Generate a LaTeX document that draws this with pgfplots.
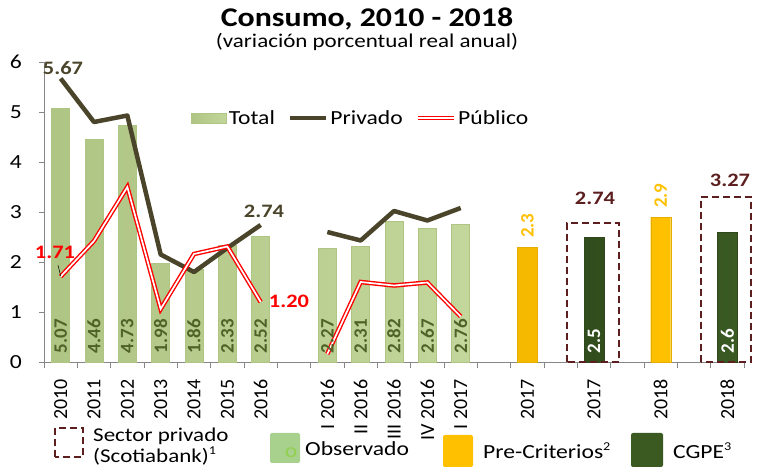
\documentclass[border=0pt]{standalone}
\usepackage{fontspec}
\setmainfont{Carlito}[FakeStretch=1.18]
\newfontfamily\plain{Carlito}
\usepackage{pgfplots}
\pgfplotsset{compat=1.18}
\definecolor{tot}{HTML}{C3D69B}
\definecolor{totlight}{HTML}{E6EFD3}
\definecolor{totdark}{HTML}{AFC584}
\definecolor{priv}{HTML}{4A452A}
\definecolor{lblgreen}{HTML}{4F6228}
\definecolor{yel}{HTML}{FFC000}
\definecolor{yellight}{HTML}{FFD54F}
\definecolor{cgpe}{HTML}{3A5A22}
\definecolor{cgpelight}{HTML}{4F7330}
\definecolor{maroon}{HTML}{5C1E1E}
\definecolor{axgray}{HTML}{868686}
\definecolor{obsgreen}{HTML}{A9D18E}
\definecolor{ogreen}{HTML}{92D050}
\newcommand{\fs}[1]{\fontsize{#1}{1.2\dimexpr#1\relax}\selectfont}
\pgfplotsset{
  barlegend/.style={legend image code/.code={\path[##1] (0bp,-5bp) rectangle (35bp,5bp);}},
  linelegend/.style={legend image code/.code={\draw[##1] (0bp,0bp) -- (36bp,0bp);}},
}
\begin{document}
\begin{tikzpicture}
\useasboundingbox (0,0) rectangle (760bp,469bp);
\node[anchor=base, inner sep=0pt] at (367bp,442bp) {\fs{27bp}\bfseries Consumo, 2010 - 2018};
\node[anchor=base, inner sep=0pt] at (367bp,421bp) {\fs{19.5bp}(variación porcentual real anual)};
\begin{axis}[
  at={(44bp,107bp)}, anchor=south west,
  width=700bp, height=300bp, scale only axis,
  xmin=-0.5, xmax=20.5, ymin=0, ymax=6,
  clip=false,
  axis lines*=left,
  axis line style={draw=axgray, line width=0.8bp},
  xtick={0,...,20},
  xticklabels={2010,2011,2012,2013,2014,2015,2016,,I 2016,II 2016,III 2016,IV 2016,I 2017,,2017,,2017,,2018,,2018},
  minor xtick={-0.5,0.5,...,20.5},
  major x tick style={draw=none},
  minor x tick style={draw=axgray, line width=0.8bp},
  minor tick length=6bp,
  ytick={0,1,...,6},
  y tick style={draw=axgray, line width=0.8bp},
  major tick length=5bp,
  tick align=outside,
  /pgf/number format/assume math mode=true,
  yticklabel style={font=\fs{20bp}, inner sep=0pt},
  xticklabel style={font=\plain\fs{20bp}, rotate=90, anchor=east, inner sep=0pt},
  xticklabel shift=12bp,
  yticklabel shift=17bp,
  legend style={at={(0.206,0.813)}, anchor=west, draw=none, fill=none,
    font=\fs{20bp}, legend columns=3,
    /tikz/every even column/.append style={column sep=11bp},
    legend cell align=left},
]
% Total bars
\addplot[ybar, bar width=18bp, bar shift=0pt, draw=totdark, line width=0.4bp,
  left color=totdark, middle color=totlight, right color=tot, barlegend]
  coordinates {(0,5.07)(1,4.46)(2,4.73)(3,1.98)(4,1.86)(5,2.33)(6,2.52)
               (8,2.27)(9,2.31)(10,2.82)(11,2.67)(12,2.76)};
\addlegendentry{Total}
% Pre-Criterios bars
\addplot[ybar, bar width=20bp, bar shift=0pt, draw=yel!90!black, line width=0.3bp,
  left color=yel!96!black, middle color=yellight, right color=yel, forget plot]
  coordinates {(14,2.3)(18,2.9)};
% CGPE bars
\addplot[ybar, bar width=20bp, bar shift=0pt, draw=cgpe!80!black, line width=0.3bp,
  left color=cgpe!85!black, middle color=cgpelight, right color=cgpe, forget plot]
  coordinates {(16,2.5)(20,2.6)};
% labels inside total bars
\addplot[draw=none, mark=none, forget plot, nodes near coords, point meta=explicit symbolic,
  every node near coord/.style={rotate=90, anchor=west, inner sep=0pt,
    font=\plain\fs{19bp}\bfseries, text=lblgreen}]
  coordinates {(0,0.17)[5.07](1,0.17)[4.46](2,0.17)[4.73](3,0.17)[1.98](4,0.17)[1.86]
    (5,0.17)[2.33](6,0.17)[2.52](8,0.17)[2.27](9,0.17)[2.31](10,0.17)[2.82]
    (11,0.17)[2.67](12,0.17)[2.76]};
% labels CGPE
\addplot[draw=none, mark=none, forget plot, nodes near coords, point meta=explicit symbolic,
  every node near coord/.style={rotate=90, anchor=west, inner sep=0pt,
    font=\plain\fs{19bp}\bfseries, text=white}]
  coordinates {(16,0.17)[2.5](20,0.17)[2.6]};
% labels Pre-Criterios
\addplot[draw=none, mark=none, forget plot, nodes near coords, point meta=explicit symbolic,
  every node near coord/.style={rotate=90, anchor=west, inner sep=0pt,
    font=\plain\fs{19bp}\bfseries, text=yel}]
  coordinates {(14,2.48)[2.3](18,3.08)[2.9]};
% Scotiabank boxes
\addplot[maroon, line width=2.6bp, dash pattern=on 7bp off 4bp, forget plot]
  coordinates {(15.19,0)(15.19,2.78)(16.75,2.78)(16.75,0)(15.19,0)};
\addplot[maroon, line width=2.6bp, dash pattern=on 7bp off 4bp, forget plot]
  coordinates {(19.21,0)(19.21,3.30)(20.71,3.30)(20.71,0)(19.21,0)};
% Privado
\addplot[priv, line width=4.5bp, line join=round, mark=none, unbounded coords=jump, linelegend]
  coordinates {(0,5.67)(1,4.80)(2,4.93)(3,2.15)(4,1.80)(5,2.28)(6,2.74)(7,nan)
               (8,2.60)(9,2.43)(10,3.02)(11,2.83)(12,3.08)};
\addlegendentry{Privado}
% Publico
\addplot[draw=red, line width=1.4bp, double=white, double distance=1.7bp, line join=miter,
  mark=none, unbounded coords=jump, linelegend]
  coordinates {(0,1.71)(1,2.42)(2,3.50)(3,1.06)(4,2.16)(5,2.31)(6,1.20)(7,nan)
               (8,0.16)(9,1.60)(10,1.53)(11,1.59)(12,0.91)};
\addlegendentry{Público}
% annotations
\node[text=priv, font=\fs{19bp}\bfseries] at (axis cs:0.07,5.88) {5.67};
\node[text=priv, font=\fs{19bp}\bfseries] at (axis cs:6.1,3.02) {2.74};
\node[text=red, font=\fs{19bp}\bfseries] at (axis cs:-0.17,2.2) {1.71};
\node[text=red, font=\fs{19bp}\bfseries] at (axis cs:6.85,1.22) {1.20};
\draw[black, line width=0.5bp] (axis cs:-0.08,1.94) -- (axis cs:0,1.72);
\node[text=maroon, font=\fs{19bp}\bfseries] at (axis cs:16.03,3.28) {2.74};
\node[text=maroon, font=\fs{19bp}\bfseries] at (axis cs:20.08,3.64) {3.27};
\end{axis}
% bottom legend
\draw[maroon, line width=2.6bp, dash pattern=on 7bp off 4bp] (55bp,12bp) rectangle (83bp,41bp);
\node[anchor=base west, inner sep=0pt] at (93bp,28bp) {\fs{19.5bp}Sector privado};
\node[anchor=base west, inner sep=0pt] at (93bp,7bp) {\fs{19.5bp}(Scotiabank)\textsuperscript{\fs{12bp}1}};
\fill[obsgreen, rounded corners=2bp] (270bp,6bp) rectangle (300bp,36bp);
\node[anchor=base, inner sep=0pt, text=ogreen] at (291bp,12bp) {\fs{20bp}o};
\node[anchor=base west, inner sep=0pt] at (305bp,14bp) {\fs{20bp}Observado};
\fill[yel, rounded corners=2bp] (443bp,2bp) rectangle (473bp,34bp);
\node[anchor=base west, inner sep=0pt] at (483bp,11bp) {\fs{20bp}Pre-Criterios\textsuperscript{\fs{12bp}2}};
\fill[cgpe, rounded corners=2bp] (631bp,2bp) rectangle (663bp,36bp);
\node[anchor=base west, inner sep=0pt] at (673bp,11bp) {\fs{20bp}CGPE\textsuperscript{\fs{12bp}3}};
\end{tikzpicture}
\end{document}
